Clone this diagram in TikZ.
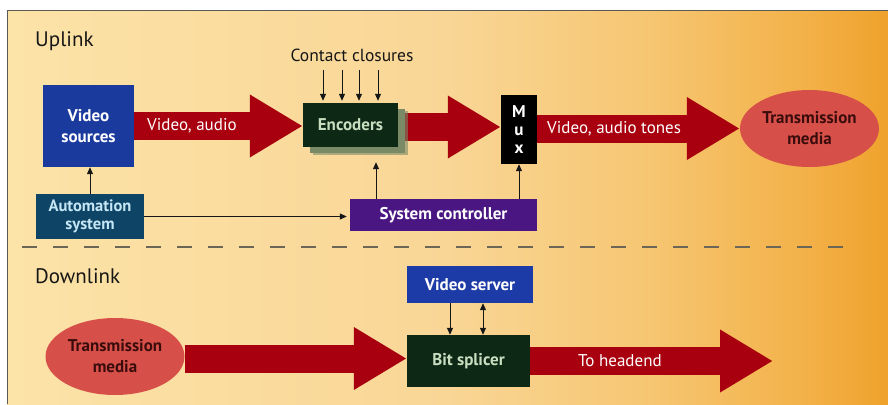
\documentclass[tikz,border=0pt]{standalone}
\usepackage{fontspec}
\setmainfont{PT Sans}
\usetikzlibrary{arrows.meta,shapes.geometric,shadows}

% palette
\definecolor{bgA}{HTML}{FCE3A8}
\definecolor{bgB}{HTML}{F9D696}
\definecolor{bgC}{HTML}{F6C672}
\definecolor{bgD}{HTML}{F3B24A}
\definecolor{bgE}{HTML}{EFA22C}
\definecolor{framegray}{HTML}{5A5A55}
\definecolor{fatred}{HTML}{A8000E}
\definecolor{vsblue}{HTML}{1B3A9E}
\definecolor{encgreen}{HTML}{0D2915}
\definecolor{encshadow}{HTML}{7A8A66}
\definecolor{enctext}{HTML}{C9DEC0}
\definecolor{autoteal}{HTML}{0E4567}
\definecolor{autotext}{HTML}{C5E6F5}
\definecolor{ctrlpurple}{HTML}{4A1682}
\definecolor{tmred}{HTML}{D65049}
\definecolor{tmtext}{HTML}{3A0C0C}
\definecolor{srvblue}{HTML}{1D3BA6}
\definecolor{dashgray}{HTML}{6B6656}
\definecolor{ink}{HTML}{161616}

% the path spans 25bp..75bp of the shading
\pgfdeclarehorizontalshading{bgshade}{100bp}{%
  color(0bp)=(bgA); color(25bp)=(bgA); color(50bp)=(bgB); color(61.5bp)=(bgC);
  color(70bp)=(bgD); color(75bp)=(bgE); color(100bp)=(bgE)}

\pgfdeclarelayer{backdrop}
\pgfdeclarelayer{links}
\pgfsetlayers{backdrop,links,main}

\newcommand\boxfont{\fontsize{17}{21}\selectfont\bfseries}
\newcommand\headfont{\fontsize{21}{25}\selectfont}

\tikzset{
  box/.style={rectangle, inner sep=0pt, align=center, font=\boxfont},
  oval/.style={ellipse, inner sep=0pt, align=center, fill=tmred, text=tmtext,
    minimum width=139pt, minimum height=77pt,
    font=\fontsize{17}{21}\selectfont\bfseries},
  fat/.style={line width=28pt, draw=fatred, -{Triangle[length=53pt,width=59pt]}},
  fatlabel/.style={text=white, inner sep=0pt, outer sep=0pt, anchor=west,
    font=\fontsize{17}{20}\selectfont},
  thinarrow/.style={draw=ink, line width=1pt, -{Triangle[length=7pt,width=6pt]}},
  dashline/.style={draw=dashgray, line width=1.4pt, dash pattern=on 15pt off 16pt},
}

\begin{document}
\begin{tikzpicture}[x=1pt,y=-1pt]
\useasboundingbox (0,0) rectangle (888,404);

% panel background and frame
\begin{pgfonlayer}{backdrop}
  \fill[white] (0,0) rectangle (888,404);
  \shade[shading=bgshade] (7,11) rectangle (888,404);
  \draw[framegray, line width=1pt] (7,404) -- (7,11) -- (888,11);
\end{pgfonlayer}

% section headings
\node[anchor=west, inner sep=0pt, text=ink, font=\headfont] (uplink) at (35,41) {Uplink};
\node[anchor=west, inner sep=0pt, text=ink, font=\headfont] (downlink) at (35,276) {Downlink};

% ---- uplink chain
\node[box, fill=vsblue, text=white, minimum width=91pt, minimum height=82pt] (vs) at (88.5,126) {Video\\sources};
\node[box, fill=encgreen, text=enctext, minimum width=95pt, minimum height=44pt,
  general shadow={fill=encshadow, fill opacity=0.6, shadow xshift=10pt, shadow yshift=-8pt},
  general shadow={fill=encshadow, shadow xshift=7pt, shadow yshift=-6pt}] (enc) at (350.5,125) {Encoders};
\node[box, fill=black, text=white, minimum width=36pt, minimum height=69pt,
  font=\fontsize{17}{18}\selectfont\bfseries] (mux) at (519,129.5) {M\\u\\x};
\node[oval] (tm1) at (809.5,128.5) {Transmission\\media};
\node[box, fill=autoteal, text=autotext, minimum width=108pt, minimum height=45pt,
  font=\fontsize{16.5}{18.5}\selectfont\bfseries] (auto) at (90,216.5) {Automation\\system};
\node[box, fill=ctrlpurple, text=white, minimum width=187pt, minimum height=32pt] (sysc) at (443.5,215) {System controller};

\node[inner sep=0pt, text=ink, font=\fontsize{17.5}{20}\selectfont] (cc) at (352,55) {Contact closures};
\coordinate (c1) at (323,70);
\coordinate (c2) at (342,70);
\coordinate (c3) at (359,70);
\coordinate (c4) at (378,70);

% ---- downlink chain
\node[oval] (tm2) at (115,356.5) {Transmission\\media};
\node[box, fill=srvblue, text=white, minimum width=126pt, minimum height=37pt] (vsrv) at (470,284.5) {Video server};
\node[box, fill=encgreen, text=enctext, minimum width=123pt, minimum height=52pt] (bsp) at (468.5,361) {Bit splicer};
\coordinate (headend) at (773,361);

% divider between the two halves
\coordinate (dl) at (22,247);
\coordinate (dr) at (858,247);
\draw[dashline] (dl) -- (dr);

% broad signal-flow arrows
\begin{pgfonlayer}{links}
  \draw[fat] (vs.east) -- (vs.east -| enc.west)
    node[fatlabel, pos=0, xshift=13pt] {Video, audio};
  \draw[fat] ([yshift=-2pt]enc.east) -- ([yshift=-2pt]enc.east -| mux.west);
  \draw[fat] (tm1.west -| mux.east) -- (tm1.west)
    node[fatlabel, pos=0, xshift=10pt] {Video, audio tones};
  \draw[fat] ([yshift=-2pt]tm2.east) -- ([yshift=-2pt]tm2.east -| bsp.west);
  \draw[fat] (bsp.east) -- (headend)
    node[fatlabel, pos=0, xshift=48pt] {To headend};
\end{pgfonlayer}

% control connections
\foreach \c in {c1,c2,c3,c4}
  \draw[thinarrow, shorten >=2pt] (\c) -- (\c |- enc.north);
\draw[thinarrow] (auto.north) -- (auto.north |- vs.south);
\draw[thinarrow, shorten >=3pt] (auto.east) -- (auto.east -| sysc.west);
\draw[thinarrow] ([xshift=-67.5pt]sysc.north) -- ([xshift=25.5pt,yshift=-15pt]enc.south);
\draw[thinarrow] (mux.south |- sysc.north) -- (mux.south);
\draw[thinarrow] ([xshift=-20pt]vsrv.south) -- ([xshift=-20pt]vsrv.south |- bsp.north);
\draw[thinarrow, {Triangle[length=7pt,width=6pt]}-{Triangle[length=7pt,width=6pt]}]
  ([xshift=13pt]vsrv.south) -- ([xshift=13pt]vsrv.south |- bsp.north);
\end{tikzpicture}
\end{document}
